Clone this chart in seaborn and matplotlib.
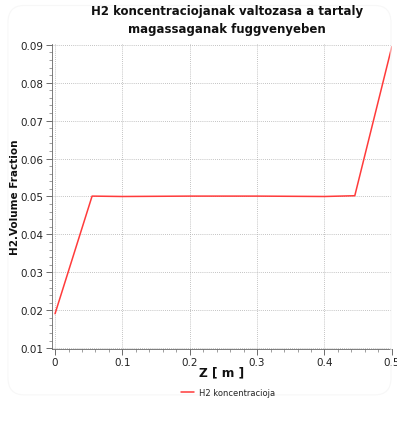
import numpy as np
import pandas as pd
import matplotlib
matplotlib.use('Agg')
import matplotlib.pyplot as plt
from matplotlib.ticker import MultipleLocator
from matplotlib.patches import FancyBboxPatch
import seaborn as sns

# --- Data ---
z_m = [0.0, 0.055, 0.1, 0.2, 0.3, 0.4, 0.445, 0.5]
h2_fraction = [0.0191, 0.0501, 0.0500, 0.0501, 0.0501, 0.0500, 0.0502, 0.0895]
series_name = 'H2 koncentracioja'
x_ticks = [0, 0.1, 0.2, 0.3, 0.4, 0.5]
x_tick_labels = ['0', '0.1', '0.2', '0.3', '0.4', '0.5']
y_ticks = [0.01, 0.02, 0.03, 0.04, 0.05, 0.06, 0.07, 0.08, 0.09]
y_tick_labels = ['0.01', '0.02', '0.03', '0.04', '0.05', '0.06', '0.07', '0.08', '0.09']

df = pd.DataFrame({'z': z_m, 'h2': h2_fraction, 'series': series_name})

sns.set_style('white')
plt.rcParams['font.family'] = ['DejaVu Sans']

fig = plt.figure(figsize=(3.97, 4.35), dpi=100)
fig.patch.set_facecolor('white')

# very faint card outline like the original widget
card = FancyBboxPatch((0.02, 0.09), 0.965, 0.895, boxstyle='round,pad=0,rounding_size=0.04',
                      transform=fig.transFigure, facecolor='none', edgecolor='#f7f7f7', linewidth=0.8)
fig.patches.append(card)

ax = fig.add_axes([0.131, 0.1954, 0.856, 0.7012])

sns.lineplot(data=df, x='z', y='h2', hue='series', palette=['#ff3b3b'],
             linewidth=1.1, ax=ax, legend=False)

ax.set_xlim(-0.0045, 0.5)
ax.set_ylim(0.0098, 0.0902)
ax.xaxis.set_minor_locator(MultipleLocator(0.02))
ax.yaxis.set_minor_locator(MultipleLocator(0.002))
ax.set_xticks(x_ticks)
ax.set_xticklabels(x_tick_labels)
ax.set_yticks(y_ticks)
ax.set_yticklabels(y_tick_labels)

ax.grid(True, which='major', color='#b0b0b0', linestyle=(0, (1, 1.5)), linewidth=0.6)
for side in ['top', 'right']:
    ax.spines[side].set_visible(False)
for side in ['left', 'bottom']:
    ax.spines[side].set_color('#666666')
    ax.spines[side].set_linewidth(0.6)

ax.tick_params(axis='both', which='major', direction='out', length=4, width=0.6,
               bottom=True, left=True, color='#555555', labelsize=7.5,
               labelcolor='#222222', pad=2)
ax.tick_params(axis='both', which='minor', direction='out', length=2, width=0.5,
               bottom=True, left=True, color='#777777')

ax.set_xlabel('Z [ m ]', fontsize=8.8, fontweight='bold', color='#111111')
ax.xaxis.set_label_coords(0.5, -0.053)
ax.set_ylabel('H2.Volume Fraction', fontsize=7.5, fontweight='bold', color='#111111')
ax.yaxis.set_label_coords(-0.094, 0.5)

fig.suptitle('H2 koncentraciojanak valtozasa a tartaly\nmagassaganak fuggvenyeben',
             x=0.571, y=0.988, fontsize=8.5, fontweight='bold', linespacing=1.45,
             color='#111111')

handle = plt.Line2D([], [], color='#ff3b3b', linewidth=1.1)
fig.legend([handle], [series_name], loc='center', bbox_to_anchor=(0.575, 0.096),
           frameon=False, fontsize=6, handlelength=1.6, handletextpad=0.6)

fig.savefig('out.png', dpi=100, facecolor='white')
plt.close()
